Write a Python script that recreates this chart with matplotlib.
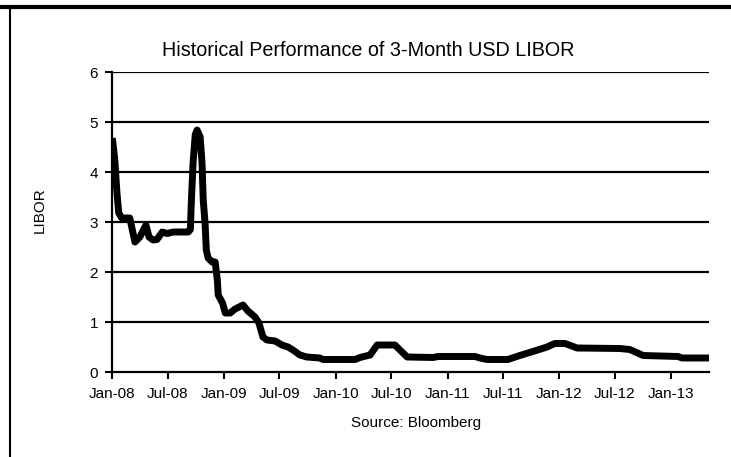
import pandas as pd
import matplotlib.pyplot as plt
import matplotlib.dates as mdates
from matplotlib.lines import Line2D

plt.rcParams["font.family"] = ["Liberation Sans", "DejaVu Sans"]

# 3-month USD LIBOR readings (%)
dates = [
    "2008-01-02", "2008-01-10", "2008-01-17", "2008-01-23", "2008-02-02",
    "2008-02-28", "2008-03-16", "2008-04-01", "2008-04-21", "2008-05-01",
    "2008-05-14", "2008-05-27", "2008-06-13", "2008-06-29", "2008-07-19",
    "2008-09-06", "2008-09-13", "2008-09-16", "2008-09-22", "2008-09-29",
    "2008-10-05", "2008-10-15", "2008-10-21", "2008-10-25", "2008-10-31",
    "2008-11-04", "2008-11-10", "2008-11-23", "2008-12-03", "2008-12-10",
    "2008-12-13", "2008-12-27", "2009-01-05", "2009-01-21", "2009-02-06",
    "2009-03-04", "2009-03-20", "2009-04-12", "2009-04-25", "2009-05-08",
    "2009-05-21", "2009-06-17", "2009-07-09", "2009-07-29", "2009-08-14",
    "2009-09-06", "2009-09-28", "2009-11-10", "2009-11-20", "2010-03-05",
    "2010-03-21", "2010-04-23", "2010-05-16", "2010-07-13", "2010-08-22",
    "2010-11-15", "2010-12-01", "2011-04-01", "2011-04-17", "2011-05-10",
    "2011-07-17", "2011-08-25", "2011-10-07", "2011-11-22", "2011-12-17",
    "2012-01-20", "2012-02-28", "2012-07-17", "2012-08-18", "2012-10-01",
    "2013-01-23", "2013-02-05", "2013-05-04",
]
libor = [
    4.68, 4.25, 3.60, 3.18, 3.08,
    3.08, 2.60, 2.70, 2.94, 2.70,
    2.64, 2.65, 2.80, 2.77, 2.80,
    2.80, 2.85, 3.38, 4.20, 4.75,
    4.84, 4.70, 4.18, 3.44, 2.98,
    2.44, 2.28, 2.20, 2.20, 1.84,
    1.54, 1.38, 1.18, 1.18, 1.26,
    1.34, 1.22, 1.10, 0.98, 0.70,
    0.64, 0.62, 0.54, 0.50, 0.44,
    0.34, 0.30, 0.28, 0.25, 0.25,
    0.29, 0.34, 0.54, 0.54, 0.30,
    0.29, 0.31, 0.31, 0.28, 0.25,
    0.25, 0.33, 0.41, 0.50, 0.57,
    0.57, 0.48, 0.47, 0.45, 0.33,
    0.31, 0.28, 0.28,
]
tick_dates = ["2008-01-01", "2008-07-01", "2009-01-01", "2009-07-01",
              "2010-01-01", "2010-07-01", "2011-01-01", "2011-07-01",
              "2012-01-01", "2012-07-01", "2013-01-01"]

x = pd.to_datetime(dates)

fig = plt.figure(figsize=(7.31, 4.57), dpi=100)
ax = fig.add_axes([112 / 731, 1 - 372 / 457, (709 - 112) / 731, 300 / 457])

for v in range(1, 7):
    ax.axhline(v, color="black", lw=1.6, zorder=1)
ax.plot(x, libor, color="black", lw=5, solid_joinstyle="round",
        solid_capstyle="butt", zorder=3)

ax.set_xlim(pd.Timestamp("2008-01-01"), pd.Timestamp("2013-05-04"))
ax.set_ylim(0, 6)
ax.set_yticks(range(0, 7))
ax.set_xticks(pd.to_datetime(tick_dates))
ax.xaxis.set_major_formatter(mdates.DateFormatter("%b-%y"))
ax.tick_params(axis="both", labelsize=11, length=5, width=1.5, color="black")
ax.tick_params(axis="x", pad=6)
ax.tick_params(axis="y", pad=5)

for s in ["top", "right"]:
    ax.spines[s].set_visible(False)
for s in ["left", "bottom"]:
    ax.spines[s].set_linewidth(1.6)

fig.text(0.504, 0.89, "Historical Performance of 3-Month USD LIBOR",
         ha="center", va="center", fontsize=14.2)
fig.text(0.569, 0.074, "Source: Bloomberg", ha="center", va="center",
         fontsize=11)
fig.text(0.055, 0.54, "LIBOR", ha="center", va="center", rotation=90,
         fontsize=11)

# outer frame pieces
fig.add_artist(Line2D([0, 1], [1 - 7 / 457, 1 - 7 / 457], color="black",
                      lw=3, transform=fig.transFigure))
fig.add_artist(Line2D([9.5 / 731, 9.5 / 731], [0, 1 - 7 / 457],
                      color="black", lw=1.5, transform=fig.transFigure))

fig.savefig("out.png", dpi=100)
